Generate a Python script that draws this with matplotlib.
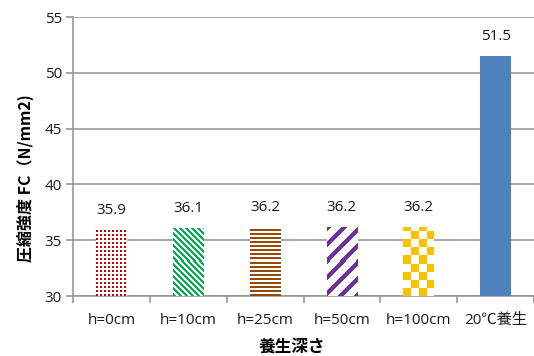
import matplotlib
matplotlib.use("Agg")
import matplotlib.pyplot as plt
import numpy as np

plt.rcParams['font.family'] = ['Open Sans', 'Noto Sans CJK JP', 'DejaVu Sans']

categories = ['h=0cm', 'h=10cm', 'h=25cm', 'h=50cm', 'h=100cm', '20℃養生']
strength = [35.9, 36.1, 36.2, 36.2, 36.2, 51.5]
value_labels = ['35.9', '36.1', '36.2', '36.2', '36.2', '51.5']

colors = ['#C00000', '#00B050', '#984807', '#7030A0', '#FFC000', '#4F81BD']
patterns = ['dots', 'diag_back', 'horiz', 'diag_fwd', 'checker', 'solid']


def pattern_mask(kind, ny, nx):
    i, j = np.mgrid[0:ny, 0:nx]
    if kind == 'dots':
        return (i % 4 < 2) & (j % 4 < 2)
    if kind == 'diag_back':
        return (i + j) % 6 < 3
    if kind == 'horiz':
        return i % 4 < 2
    if kind == 'diag_fwd':
        return (i - j) % 16 < 6
    if kind == 'checker':
        return (i // 8 + j // 8) % 2 == 0
    return np.ones((ny, nx), bool)


fig = plt.figure(figsize=(5.34, 3.56), dpi=100)
ax = fig.add_axes([73 / 534, 1 - 296 / 356, 461 / 534, (296 - 17) / 356])

x = np.arange(len(categories))
ax.set_xlim(-0.5, len(categories) - 0.5)
ax.set_ylim(30, 55)

bars = ax.bar(x, strength, width=0.4, color='white', linewidth=0, zorder=2)

fig.canvas.draw()
for bar, c, kind in zip(bars, colors, patterns):
    x0, y0 = bar.get_x(), bar.get_y()
    x1, y1 = x0 + bar.get_width(), y0 + bar.get_height()
    y0 = max(y0, 30)
    p0 = ax.transData.transform((x0, y0))
    p1 = ax.transData.transform((x1, y1))
    nx = max(int(round(p1[0] - p0[0])), 1)
    ny = max(int(round(p1[1] - p0[1])), 1)
    mask = pattern_mask(kind, ny, nx)
    rgb = np.array(matplotlib.colors.to_rgb(c))
    img = np.ones((ny, nx, 3))
    img[mask] = rgb
    im = ax.imshow(img, extent=(x0, x1, y0, y1), origin='lower', aspect='auto',
                   interpolation='nearest', zorder=3)
    im.set_clip_path(bar)

ax.set_xlim(-0.5, len(categories) - 0.5)
ax.set_ylim(30, 55)

for xi, v, lab in zip(x, strength, value_labels):
    ax.text(xi, v + 1.45, lab, ha='center', va='baseline', fontsize=11, color='#1a1a1a')

ax.set_yticks(np.arange(30, 56, 5))
ax.yaxis.grid(True, color='#999999', linewidth=1.2)
ax.set_axisbelow(True)
ax.set_xticks(x)
ax.set_xticklabels(categories, fontsize=11, color='#1a1a1a')
ax.set_xticks(np.arange(-0.5, len(categories), 1), minor=True)
ax.tick_params(axis='x', which='major', length=0, pad=12)
ax.tick_params(axis='x', which='minor', length=5, color='#999999', width=1.2)
ax.tick_params(axis='y', length=5, color='#999999', width=1.2, labelsize=11,
               labelcolor='#1a1a1a', pad=3)

for s in ['top', 'right']:
    ax.spines[s].set_visible(False)
for s in ['left', 'bottom']:
    ax.spines[s].set_color('#999999')
    ax.spines[s].set_linewidth(1.2)

yl = ax.set_ylabel('圧縮強度 FC（N/mm2)', fontsize=11.5, fontweight='bold',
                   family=['Noto Sans CJK JP', 'DejaVu Sans'])
yl.set_va('center')
ax.yaxis.set_label_coords(-0.104, 0.423)
xl = ax.set_xlabel('養生深さ', fontsize=12, fontweight='bold',
                   family=['Noto Sans CJK JP', 'DejaVu Sans'])
xl.set_va('center')
ax.xaxis.set_label_coords(0.475, -0.183)

fig.savefig('out.png', dpi=100)
